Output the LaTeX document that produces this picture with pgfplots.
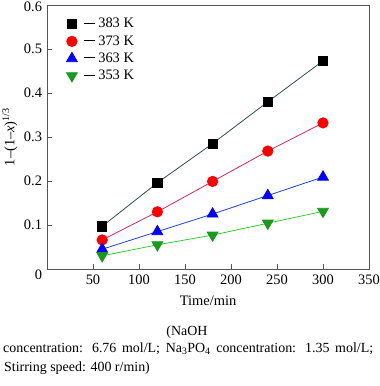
\documentclass[border=0pt]{standalone}
\usepackage{fontspec}
\setmainfont{Liberation Serif}
\usepackage{pgfplots}
\pgfplotsset{compat=1.18}
\definecolor{c383}{HTML}{2F4F4F}
\definecolor{c373}{HTML}{E0245E}
\definecolor{c363}{HTML}{1F3FE0}
\definecolor{c353}{HTML}{33CC33}
\definecolor{m353}{HTML}{1A9A1A}
\definecolor{axgray}{HTML}{555555}
\newcommand{\legdash}{\hspace{5bp}\rule[4bp]{11bp}{0.8bp}\hspace{3bp}}
\begin{document}
\fontsize{14.5}{17}\selectfont
\begin{tikzpicture}[x=1bp,y=1bp]
\useasboundingbox (0,0) rectangle (380,386);
\begin{axis}[
  at={(47bp,117bp)}, anchor=south west,
  scale only axis, width=322bp, height=264bp,
  xmin=0, xmax=350, ymin=0, ymax=0.6,
  xtick={0,50,...,350}, xticklabels={,50,100,150,200,250,300,350},
  ytick={0,0.1,0.2,0.3,0.4,0.5,0.6},
  yticklabels={{\raisebox{-8.5bp}[5bp][0bp]{0}},0.1,0.2,0.3,0.4,0.5,{\raisebox{-4bp}[5bp][0bp]{0.6}}},
  tick align=inside, xtick pos=bottom, ytick pos=left,
  major tick length=5bp,
  axis line style={axgray, line width=0.9pt},
  tick style={axgray, line width=0.8pt},
  /pgf/number format/assume math mode=true,
  tick label style={font=\fontsize{14.5}{17}\selectfont},
  xticklabel style={yshift=-1bp},
  label style={font=\fontsize{14.5}{17}\selectfont},
  xlabel={Time/min},
  xlabel style={at={(axis description cs:0.5,-0.12)}, anchor=center},
  ylabel={1\textendash(1\textendash\textit{x})\textsuperscript{1/3}},
  ylabel style={at={(axis description cs:-0.115,0.5)}, anchor=center},
  legend style={at={(0.057,0.962)}, anchor=north west, draw=none, fill=none,
    font=\fontsize{14.5}{17}\selectfont, row sep=1.5bp, inner sep=1bp},
  legend cell align=left,
  legend image code/.code={\draw[#1] plot[only marks] coordinates {(0.2cm,0cm)};},
]
\addplot[c383, line width=0.8pt, mark=square*, mark size=4.6bp, mark options={fill=black, draw=black}]
  coordinates {(60,0.097) (120,0.196) (180,0.285) (240,0.380) (300,0.473)};
\addlegendentry{\legdash 383 K}
\addplot[c373, line width=0.8pt, mark=*, mark size=5.2bp, mark options={fill=red, draw=red}]
  coordinates {(60,0.066) (120,0.130) (180,0.199) (240,0.268) (300,0.332)};
\addlegendentry{\legdash 373 K}
\addplot[c363, line width=0.8pt, mark=triangle*, mark size=6.2bp, mark options={fill=blue, draw=blue}]
  coordinates {(60,0.045) (120,0.085) (180,0.125) (240,0.167) (300,0.209)};
\addlegendentry{\legdash 363 K}
\addplot[c353, line width=0.8pt, mark=triangle*, mark size=6.2bp, mark options={fill=m353, draw=m353, rotate=180}]
  coordinates {(60,0.030) (120,0.055) (180,0.077) (240,0.104) (300,0.131)};
\addlegendentry{\legdash 353 K}
\end{axis}
\node[anchor=base, font=\fontsize{14}{16}\selectfont] at (187,51) {(NaOH};
\node[anchor=base west, inner sep=0, font=\fontsize{14}{16}\selectfont] at (3,34) {\makebox[370bp][s]{concentration: 6.76 mol/L; Na\textsubscript{3}PO\textsubscript{4} concentration: 1.35 mol/L;}};
\node[anchor=base west, inner sep=0, font=\fontsize{14}{16}\selectfont] at (4,15) {Stirring speed: 400 r/min)};
\end{tikzpicture}
\end{document}
